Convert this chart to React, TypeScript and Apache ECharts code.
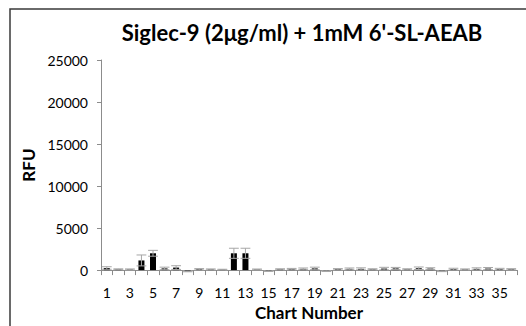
import React, { useEffect, useRef } from "react";
import * as echarts from "echarts";

// Chart numbers 1..36
const chartNumbers: string[] = Array.from({ length: 36 }, (_, i) => String(i + 1));

// Mean RFU per chart
const rfuValues: number[] = [
  250, 100, 80, 1150, 2000, 200, 300, -150, 100, 80,
  60, 2000, 2000, 80, -120, 100, 120, 150, 200, -120,
  100, 150, 150, 100, 180, 200, 100, 220, 180, -130,
  120, 80, 150, 180, 120, 100,
];

// Standard deviation per chart
const rfuErrors: number[] = [
  150, 50, 60, 650, 350, 150, 220, 50, 80, 60,
  40, 600, 600, 50, 40, 60, 80, 100, 150, 50,
  80, 100, 120, 60, 150, 120, 60, 150, 100, 50,
  100, 60, 120, 130, 90, 70,
];

const titleText = "Siglec-9 (2μg/ml) + 1mM 6'-SL-AEAB";
const FONT = "Lato, 'Open Sans', sans-serif";

export default function App() {
  const ref = useRef<HTMLDivElement>(null);

  useEffect(() => {
    document.body.style.margin = "0";
    if (!ref.current) return;
    const chart = echarts.init(ref.current, null, { renderer: "svg" });

    const errData = rfuValues.map((v, i) => [i, v, rfuErrors[i]]);

    chart.setOption({
      animation: false,
      backgroundColor: "#ffffff",
      grid: { left: 101, right: 9, top: 60, bottom: 52 },
      graphic: [
        {
          type: "rect",
          shape: { x: 10, y: 9, width: 700, height: 500 },
          style: { fill: "none", stroke: "#3a3a3a", lineWidth: 1.5 },
          z: -1,
        },
        {
          type: "text",
          x: 302,
          y: 32,
          style: {
            text: titleText,
            font: `bold 22px ${FONT}`,
            fill: "#000000",
            textAlign: "center",
            textVerticalAlign: "middle",
          },
        },
      ],
      xAxis: {
        type: "category",
        data: chartNumbers,
        name: "Chart Number",
        nameLocation: "middle",
        nameGap: 31,
        nameTextStyle: { fontFamily: FONT, fontWeight: "bold", fontSize: 17, color: "#000" },
        axisLine: { lineStyle: { color: "#8c8c8c", width: 1 } },
        axisTick: { show: true, length: 5, interval: 0, lineStyle: { color: "#8c8c8c" } },
        axisLabel: { interval: 1, margin: 15, fontFamily: FONT, fontSize: 14, color: "#000" },
        splitLine: { show: false },
      },
      yAxis: {
        type: "value",
        min: 0,
        max: 25000,
        interval: 5000,
        name: "RFU",
        nameLocation: "middle",
        nameRotate: 90,
        nameGap: 62,
        nameTextStyle: { fontFamily: FONT, fontWeight: "bold", fontSize: 17, color: "#000" },
        axisLine: { show: true, lineStyle: { color: "#8c8c8c", width: 1 } },
        axisTick: { show: true, length: 4, lineStyle: { color: "#8c8c8c" } },
        axisLabel: {
          margin: 13,
          fontFamily: FONT,
          fontSize: 14,
          color: "#000",
          formatter: (val: number) => String(val),
        },
        splitLine: { show: false },
      },
      series: [
        {
          type: "bar",
          data: rfuValues,
          barWidth: "52%",
          clip: false,
          itemStyle: { color: "#000000" },
        },
        {
          type: "custom",
          data: errData,
          encode: { x: 0, y: [1, 2] },
          clip: false,
          z: 5,
          renderItem: (params: any, api: any) => {
            const idx = api.value(0);
            const v = api.value(1);
            const e = api.value(2);
            const hi = api.coord([idx, v + e]);
            const lo = api.coord([idx, v - e]);
            const half = (api.size([1, 0])[0] * 0.85) / 2;
            const style = { stroke: "#a6a6a6", lineWidth: 1, fill: "none" };
            return {
              type: "group",
              children: [
                { type: "line", shape: { x1: hi[0], y1: hi[1], x2: lo[0], y2: lo[1] }, style },
                { type: "line", shape: { x1: hi[0] - half, y1: hi[1], x2: hi[0] + half, y2: hi[1] }, style },
                { type: "line", shape: { x1: lo[0] - half, y1: lo[1], x2: lo[0] + half, y2: lo[1] }, style },
              ],
            };
          },
        },
      ],
    });

    return () => chart.dispose();
  }, []);

  return <div ref={ref} style={{ width: 526, height: 326 }} />;
}
